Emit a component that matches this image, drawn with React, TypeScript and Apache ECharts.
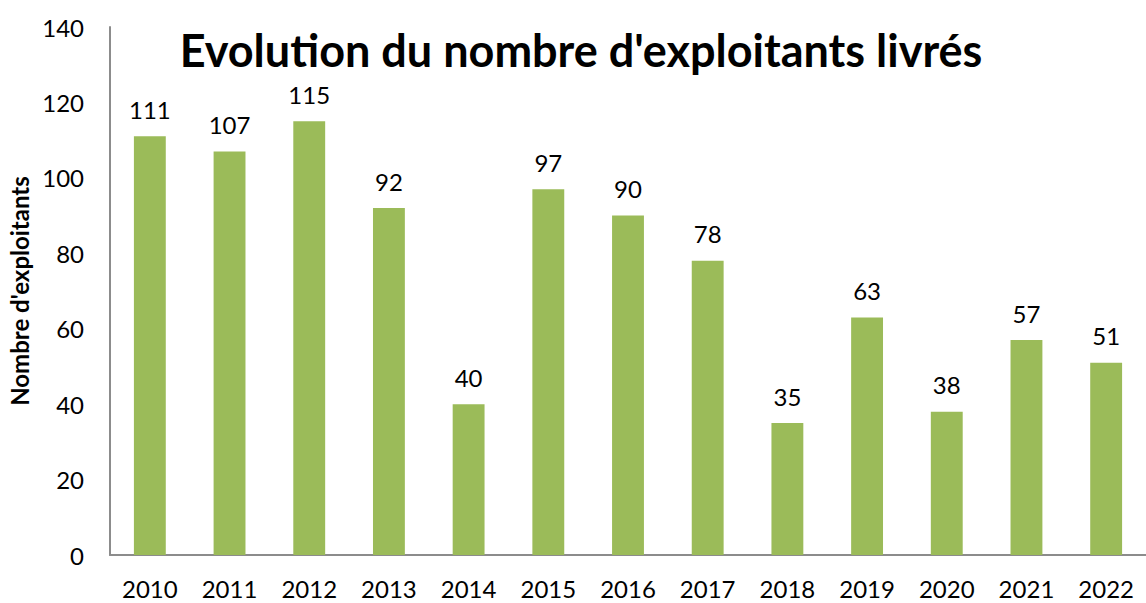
import React, { useEffect, useRef } from "react";
import * as echarts from "echarts";

const categories = ["2010", "2011", "2012", "2013", "2014", "2015", "2016", "2017", "2018", "2019", "2020", "2021", "2022"];
const values = [111, 107, 115, 92, 40, 97, 90, 78, 35, 63, 38, 57, 51];
const titleText = "Evolution du nombre d'exploitants livrés";
const yAxisName = "Nombre d'exploitants";

export default function App() {
  const ref = useRef<HTMLDivElement>(null);
  useEffect(() => {
    const chart = echarts.init(ref.current!, null, { renderer: "svg" });
    const font = "Lato, 'Open Sans', sans-serif";
    chart.setOption({
      animation: false,
      textStyle: { fontFamily: font },
      title: {
        text: titleText,
        left: 576,
        textAlign: "center",
        top: 22,
        textStyle: { fontFamily: font, fontSize: 45, fontWeight: "bold", color: "#000" },
      },
      grid: { left: 110, right: 0, top: 27, bottom: 48, containLabel: false, outerBoundsMode: "none" },
      xAxis: {
        type: "category",
        data: categories,
        axisLine: { show: true, lineStyle: { color: "#8c8c8c", width: 2 } },
        axisTick: { show: false },
        axisLabel: { fontFamily: font, fontSize: 24, color: "#000", margin: 21 },
      },
      yAxis: {
        type: "value",
        min: 0,
        max: 140,
        interval: 20,
        name: yAxisName,
        nameLocation: "middle",
        nameGap: 78,
        nameTextStyle: { fontFamily: font, fontSize: 24, fontWeight: "bold", color: "#000" },
        axisLine: { show: true, lineStyle: { color: "#8c8c8c", width: 2 } },
        axisTick: { show: false },
        splitLine: { show: false },
        axisLabel: { fontFamily: font, fontSize: 24, color: "#000", margin: 26 },
      },
      series: [
        {
          type: "bar",
          data: values,
          barWidth: "40%",
          itemStyle: { color: "#9BBB59" },
          label: {
            show: true,
            position: "top",
            distance: 15,
            fontFamily: font,
            fontSize: 24,
            color: "#000",
          },
        },
      ],
    });
    return () => chart.dispose();
  }, []);
  return <div ref={ref} style={{ width: 1146, height: 603, position: "absolute", left: 0, top: 0 }} />;
}
